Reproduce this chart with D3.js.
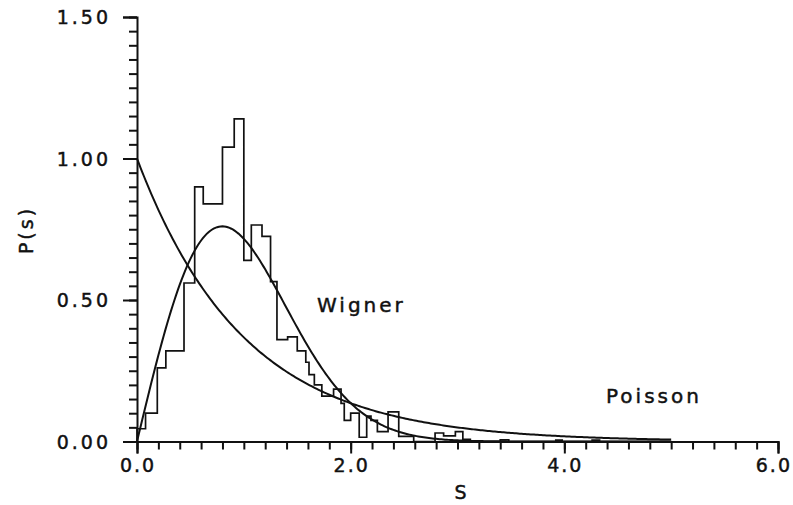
<!DOCTYPE html>
<html>
<head>
<meta charset="utf-8">
<script src="https://cdn.jsdelivr.net/npm/d3@7"></script>
<style>
  html, body { margin: 0; padding: 0; background: #fff; }
  svg text { font-family: "DejaVu Sans", sans-serif; fill: #111; stroke: #111; stroke-width: 0.45px; }
</style>
</head>
<body>
<svg id="chart" width="793" height="505"></svg>
<script>
// Nearest-neighbour spacing histogram: bin edges (s) and normalised heights P(s)
const binEdges = [0.00, 0.08, 0.19, 0.27, 0.44, 0.54, 0.62, 0.80, 0.91, 1.00,
  1.07, 1.17, 1.25, 1.31, 1.41, 1.50, 1.58, 1.61, 1.66, 1.73, 1.84, 1.91,
  1.94, 2.00, 2.08, 2.15, 2.19, 2.25, 2.35, 2.45, 2.59, 2.79, 2.87, 2.98,
  3.05, 3.12, 3.40, 3.48, 3.92, 3.98, 4.26, 4.33, 5.00];
const binHeights = [0.045, 0.10, 0.26, 0.32, 0.56, 0.90, 0.84, 1.04, 1.14,
  0.64, 0.765, 0.725, 0.565, 0.36, 0.37, 0.32, 0.28, 0.236, 0.20, 0.16,
  0.185, 0.135, 0.075, 0.10, 0.015, 0.09, 0.075, 0.035, 0.105, 0.018, 0.0,
  0.03, 0.02, 0.035, 0.008, 0.0, 0.006, 0.0, 0.005, 0.0, 0.005, 0.0];

// Axis ticks
const xMajorTicks = [0, 2, 4, 6];
const xTickLabels = ["0.0", "2.0", "4.0", "6.0"];
const yMajorTicks = [0, 0.5, 1.0, 1.5];
const yTickLabels = ["0.00", "0.50", "1.00", "1.50"];
const xMinorStep = 0.2;
const yMinorStep = 0.05;

// Reference curves sampled over this range
const curveRange = [0, 5];
const curveSamples = 300;

const W = 793;
const svg = d3.select("#chart");
const x = d3.scaleLinear().domain([0, 6]).range([137, 778]);
const y = d3.scaleLinear().domain([0, 1.5]).range([441.5, 17]);

const ink = "#111";

// Minor ticks
const xMinor = d3.range(0, 6 + 1e-9, xMinorStep).map(v => +v.toFixed(2));
const yMinor = d3.range(0, 1.5 + 1e-9, yMinorStep).map(v => +v.toFixed(2));

function styleAxis(g, width) {
  g.selectAll("path, line").attr("stroke", ink).attr("stroke-width", width);
  g.selectAll("text").remove();
}

svg.append("g")
  .attr("transform", `translate(0,${y(0)})`)
  .call(d3.axisBottom(x).tickValues(xMinor).tickSize(8).tickSizeOuter(12).tickFormat(""))
  .call(g => styleAxis(g, 2));
svg.append("g")
  .attr("transform", `translate(0,${y(0)})`)
  .call(d3.axisBottom(x).tickValues(xMajorTicks).tickSize(12).tickFormat(""))
  .call(g => { styleAxis(g, 2); g.select(".domain").remove(); });

svg.append("g")
  .attr("transform", `translate(${x(0)},0)`)
  .call(d3.axisLeft(y).tickValues(yMinor).tickSize(8).tickSizeOuter(14).tickFormat(""))
  .call(g => styleAxis(g, 2));
svg.append("g")
  .attr("transform", `translate(${x(0)},0)`)
  .call(d3.axisLeft(y).tickValues(yMajorTicks).tickSize(14).tickFormat(""))
  .call(g => { styleAxis(g, 2); g.select(".domain").remove(); });

// Tick labels
const labelStyle = sel => sel
  .attr("font-size", 19)
  .attr("letter-spacing", 3);

// x labels are centred under their ticks, kept inside the right edge
const xLabels = svg.append("g").selectAll("text")
  .data(xMajorTicks)
  .join("text")
  .attr("y", 472)
  .call(labelStyle)
  .attr("letter-spacing", 2)
  .text((d, i) => xTickLabels[i]);
xLabels.each(function (d) {
  const w = this.getComputedTextLength();
  const left = Math.min(x(d) - w / 2 + 1, W - 1 - w);
  d3.select(this).attr("x", left).attr("text-anchor", "start");
});

svg.append("g").selectAll("text")
  .data(yMajorTicks)
  .join("text")
  .attr("x", 111)
  .attr("y", d => y(d) + 7)
  .attr("text-anchor", "end")
  .call(labelStyle)
  .text((d, i) => yTickLabels[i]);

// Axis titles
svg.append("text")
  .attr("x", 462).attr("y", 499)
  .attr("text-anchor", "middle")
  .call(labelStyle)
  .text("S");

svg.append("text")
  .attr("transform", "translate(33,230) rotate(-90)")
  .attr("text-anchor", "middle")
  .call(labelStyle)
  .text("P(s)");

// Histogram outline
const histPts = [[binEdges[0], 0]];
binHeights.forEach((h, i) => histPts.push([binEdges[i], h]));
histPts.push([binEdges[binEdges.length - 1], 0]);

svg.append("path")
  .datum(histPts)
  .attr("fill", "none")
  .attr("stroke", ink)
  .attr("stroke-width", 1.7)
  .attr("d", d3.line().x(d => x(d[0])).y(d => y(d[1])).curve(d3.curveStepAfter));

// Poisson and Wigner distributions
const sGrid = d3.range(curveSamples + 1).map(i => curveRange[0] + (curveRange[1] - curveRange[0]) * i / curveSamples);
const poisson = s => Math.exp(-s);
const wigner = s => (Math.PI / 2) * s * Math.exp(-Math.PI * s * s / 4);

const curveLine = d3.line().x(d => x(d[0])).y(d => y(d[1])).curve(d3.curveLinear);
[poisson, wigner].forEach(f => {
  svg.append("path")
    .datum(sGrid.map(s => [s, f(s)]))
    .attr("fill", "none")
    .attr("stroke", ink)
    .attr("stroke-width", 2)
    .attr("d", curveLine);
});

// Curve annotations
svg.append("text")
  .attr("x", 317).attr("y", 312)
  .call(labelStyle)
  .attr("font-size", 20)
  .text("Wigner");

svg.append("text")
  .attr("x", 606).attr("y", 403)
  .call(labelStyle)
  .attr("font-size", 20)
  .text("Poisson");
</script>
</body>
</html>
